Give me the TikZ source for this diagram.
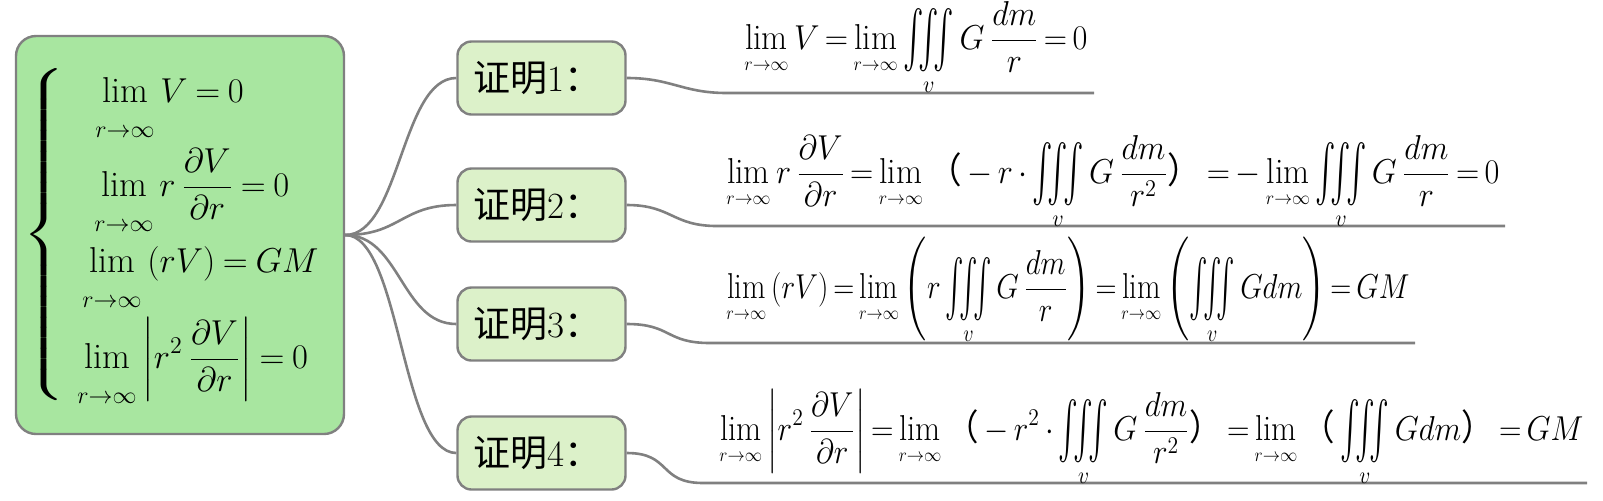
\documentclass[tikz,border=0pt]{standalone}
\usepackage{amsmath}
\usepackage{graphicx}
\usepackage{fontspec}
\newfontfamily\cjk{Noto Sans CJK SC}
\usepackage{tikz}
\usetikzlibrary{positioning}

\definecolor{rootgreen}{HTML}{A8E6A0}
\definecolor{kidgreen}{HTML}{DCF1C9}
\definecolor{linegray}{HTML}{808080}

% limits for the root box and for the proof lines
\newcommand{\limr}{\lim\limits_{\vrule height 15pt width 0pt r\to\infty}}
\newcommand{\limp}{\lim\limits_{\vrule height 8pt width 0pt\scalebox{0.8}{$\scriptstyle r\to\infty$}}}
\newcommand{\intv}{\mathop{\vcenter{\hbox{\scalebox{0.95}[1.65]{$\textstyle\iiint$}}}}\limits_v}
\newcommand{\cjkl}{\text{\cjk （}}
\newcommand{\cjkr}{\text{\cjk ）}}
\newcommand{\eqn}[1]{$\displaystyle\thickmuskip=4mu #1$}
\newcommand{\eqp}[2]{\resizebox{#1}{\height}{$\displaystyle\thickmuskip=3mu\medmuskip=3mu #2$}}

\begin{document}
\begin{tikzpicture}[x=0.5pt, y=-0.5pt,
    every node/.style={font=\fontsize{18}{21}\selectfont},
    rootbox/.style={draw=linegray, line width=1.2pt, fill=rootgreen,
        rounded corners=10pt, minimum width=164pt, minimum height=199pt, inner sep=0pt},
    kidbox/.style={draw=linegray, line width=1.2pt, fill=kidgreen, rounded corners=7pt,
        minimum height=36.5pt, inner xsep=8pt, inner ysep=0pt, text width=68pt, align=left,
        font=\fontsize{18.5}{21}\selectfont},
    formula/.style={anchor=base west, inner sep=0pt},
    branch/.style={draw=linegray, line width=1.3pt}]
    \useasboundingbox (0,0) rectangle (1603,500);

    % root
    \node[rootbox] (root) at (180,235) {};
    \node[inner sep=0pt] (brace) at (46,236) {\scalebox{1.4}[1]{$\left\{\vrule height 80pt depth 80pt width 0pt\right.$}};
    \node[formula] (l1) at (95,102) {\eqn{\limr V=0}};
    \node[formula] (l2) at (94,196) {\eqn{\limr r\,\frac{\partial V}{\partial r}=0}};
    \node[formula] (l3) at (82,272) {\eqn{\limr\,(rV)=GM}};
    \node[formula] (l4) at (77,368) {\eqn{\limr\left|r^2\,\frac{\partial V}{\partial r}\right|=0}};

    % proofs
    \node[kidbox] (p1) at (541.5,78) {{\cjk 证明}1{\cjk ：}};
    \node[kidbox] (p2) at (541.5,205) {{\cjk 证明}2{\cjk ：}};
    \node[kidbox] (p3) at (541.5,324) {{\cjk 证明}3{\cjk ：}};
    \node[kidbox] (p4) at (541.5,453) {{\cjk 证明}4{\cjk ：}};

    \foreach \k in {1,...,4}
        \draw[branch] (root.east) .. controls +(55,0) and +(-55,0) .. (p\k.west);

    % underlines
    \coordinate (u1a) at (727,93);   \coordinate (u1b) at (1094,93);
    \coordinate (u2a) at (717,226);  \coordinate (u2b) at (1505,226);
    \coordinate (u3a) at (710,343);  \coordinate (u3b) at (1415,343);
    \coordinate (u4a) at (703,483);  \coordinate (u4b) at (1587,483);

    \foreach \k in {1,...,4}
        \draw[branch] (p\k.east) .. controls +(45,0) and +(-45,0) .. (u\k a) -- (u\k b);

    \node[formula] (f1) at (744,49)
        {\eqp{171.5pt}{\limp V=\limp\intv G\,\frac{dm}{r}=0}};
    \node[formula] (f2) at (726,183)
        {\eqp{386.5pt}{\limp r\,\frac{\partial V}{\partial r}=\limp\cjkl-r\cdot\intv G\,\frac{dm}{r^2}\cjkr=-\limp\intv G\,\frac{dm}{r}=0}};
    \node[formula] (f3) at (726,298)
        {\eqp{341.5pt}{\limp\,(rV)=\limp\left(r\intv G\,\frac{dm}{r}\right)=\limp\left(\intv Gdm\right)=GM}};
    \node[formula] (f4) at (719,440)
        {\eqp{432pt}{\limp\left|r^2\,\frac{\partial V}{\partial r}\right|=\limp\cjkl-r^2\cdot\intv G\,\frac{dm}{r^2}\cjkr=\limp\cjkl\intv Gdm\cjkr=GM}};
\end{tikzpicture}
\end{document}
